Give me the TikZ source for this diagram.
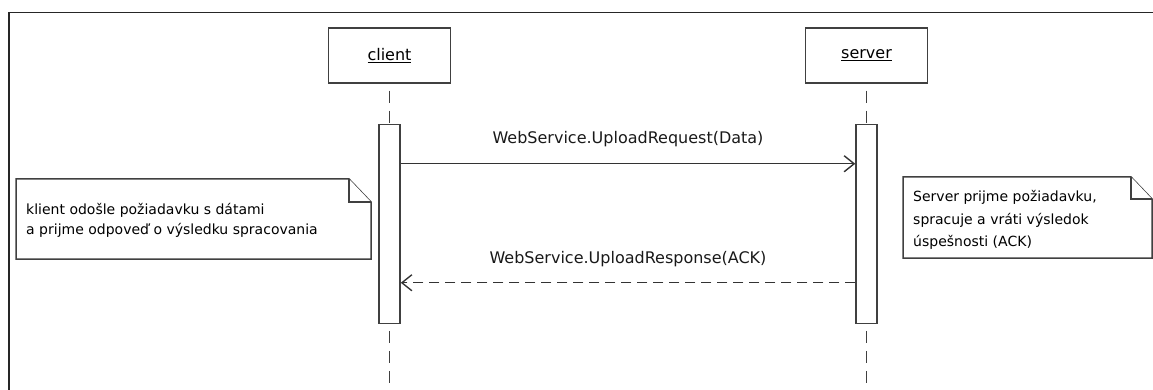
\documentclass[tikz,border=0pt]{standalone}
\usepackage{fontspec}
\setmainfont{DejaVu Sans}
\usetikzlibrary{arrows.meta, positioning}
\tikzset{
x=1pt, y=-1pt, % one unit per pixel, y pointing down
actor/.style={draw=black!75, line width=1.5pt, minimum width=122pt, minimum height=55pt, font=\fontsize{16}{19}\selectfont}, % participant boxes
bar/.style={draw=black!75, fill=white, line width=1.5pt, minimum width=21pt, minimum height=199pt}, % activation bars
lifeline/.style={draw=black!75, line width=1.5pt, dash pattern=on 12pt off 8pt, dash phase=13pt},
msg/.style={draw=black!80, line width=1.4pt, -{Straight Barb[length=10pt,width=16pt]}}, % call
reply/.style={msg, dash pattern=on 10pt off 6pt}, % return message
msglabel/.style={font=\fontsize{16}{19}\selectfont, text=black!90},
note/.style={draw=black!75, line width=1.5pt, fill=white},
notetext/.style={anchor=west, align=left, inner sep=0pt, text=black},
}
\begin{document}
\begin{tikzpicture}
\useasboundingbox (0,0) rectangle (1153,390);
% frame
\draw[black!85, line width=1.5pt] (9,390) -- (9,12.5) -- (1153,12.5);

% participants and lifelines
\node[actor] (client) at (389.5,55.5) {\underline{client}};
\node[actor] (server) at (866.5,55.5) {\underline{server}};
\draw[lifeline] (client.south) -- (client.south |- 0,392);
\draw[lifeline] (server.south) -- (server.south |- 0,392);
\node[bar, below=40pt of client] (cbar) {};
\node[bar, below=40pt of server] (sbar) {};

% messages
\draw[msg] ([yshift=-40pt]cbar.north east) -- node[msglabel, midway, yshift=25pt] {WebService.UploadRequest(Data)} ([yshift=-40pt]sbar.north west);
\draw[reply] ([yshift=-159pt]sbar.north west) -- node[msglabel, midway, yshift=24pt] {WebService.UploadResponse(ACK)} ([yshift=-159pt]cbar.north east);

% notes
\draw[note] (16,179) -- (349,179) -- (371,202) -- (371,259) -- (16,259) -- cycle;
\draw[note] (349,179) -- (349,202) -- (371,202);
\node[notetext, font=\fontsize{14}{20}\selectfont] (cnote) at (26,220) {klient odošle požiadavku s dátami\\a prijme odpoveď o výsledku spracovania};
\draw[note] (903,177) -- (1131,177) -- (1152,199) -- (1152,258) -- (903,258) -- cycle;
\draw[note] (1131,177) -- (1131,199) -- (1152,199);
\node[notetext, font=\fontsize{14}{22.5}\selectfont] (snote) at (913,220) {Server prijme požiadavku,\\spracuje a vráti výsledok\\úspešnosti (ACK)};
\end{tikzpicture}
\end{document}
